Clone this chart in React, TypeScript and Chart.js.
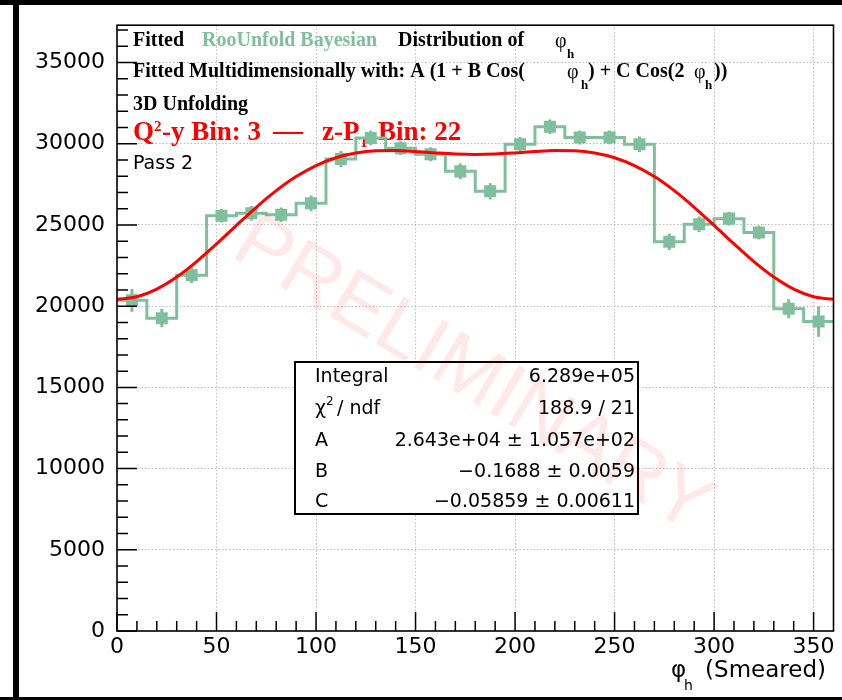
import React, { useEffect, useRef } from 'react';
import { Chart, registerables } from 'chart.js';

Chart.register(...registerables);

// ---------------- data ----------------
const binWidth = 15;
const binCenters = [
  7.5, 22.5, 37.5, 52.5, 67.5, 82.5, 97.5, 112.5, 127.5, 142.5, 157.5, 172.5,
  187.5, 202.5, 217.5, 232.5, 247.5, 262.5, 277.5, 292.5, 307.5, 322.5, 337.5, 352.5,
];
const counts = [
  20360, 19260, 21910, 25570, 25720, 25630, 26340, 29060, 30360, 29730, 29360, 28300,
  27070, 29970, 31050, 30390, 30390, 29970, 23960, 25040, 25390, 24530, 19840, 19060,
];
const errors = [
  700, 560, 480, 420, 450, 450, 480, 500, 450, 420, 430, 480,
  500, 450, 450, 430, 420, 480, 500, 480, 430, 430, 590, 940,
];
const fitPhi = [
  0, 10, 20, 30, 40, 50, 60, 70, 80, 90, 100, 110, 120, 130, 140, 150, 160, 170, 180,
  190, 200, 210, 220, 230, 240, 250, 260, 270, 280, 290, 300, 310, 320, 330, 340, 350, 360,
];
const fitValues = [
  20420, 20581, 21051, 21792, 22744, 23831, 24974, 26090, 27111, 27979, 28660, 29142, 29435,
  29566, 29579, 29519, 29436, 29368, 29343, 29368, 29436, 29519, 29579, 29566, 29435, 29142,
  28660, 27979, 27111, 26090, 24974, 23831, 22744, 21792, 21051, 20581, 20420,
];
const xTickValues = [0, 50, 100, 150, 200, 250, 300, 350];
const yTickValues = [0, 5000, 10000, 15000, 20000, 25000, 30000, 35000];
const statLabels = ['Integral', 'χ2 / ndf', 'A', 'B', 'C'];
const statValues = [
  '6.289e+05',
  '188.9 / 21',
  '2.643e+04 ± 1.057e+02',
  '\u22120.1688 ± 0.0059',
  '\u22120.05859 ± 0.00611',
];

const X_MIN = 0;
const X_MAX = 360;
const Y_MIN = 0;
const Y_MAX = 37300;

const GREEN = 'rgb(127,191,157)';
const RED = '#ff0000';
const SANS = '"DejaVu Sans"';
const SERIF = '"Liberation Serif"';

type Seg = { t: string; x: number; y: number; font: string; color: string };
const B20 = `bold 20px ${SERIF}`;
const B27 = `bold 27px ${SERIF}`;
const PHI = `20px ${SERIF}`;
const SUB = `bold 13px ${SERIF}`;
const headerSegments: Seg[] = [
  { t: 'Fitted', x: 133, y: 46, font: B20, color: '#000' },
  { t: 'RooUnfold Bayesian', x: 202, y: 46, font: B20, color: GREEN },
  { t: 'Distribution of', x: 398, y: 46, font: B20, color: '#000' },
  { t: 'φ', x: 555, y: 47, font: PHI, color: '#000' },
  { t: 'h', x: 567, y: 58, font: SUB, color: '#000' },
  { t: 'Fitted Multidimensionally with: A (1 + B Cos(', x: 133, y: 77, font: B20, color: '#000' },
  { t: 'φ', x: 567, y: 78, font: PHI, color: '#000' },
  { t: 'h', x: 581, y: 89, font: SUB, color: '#000' },
  { t: ') + C Cos(2', x: 588, y: 77, font: B20, color: '#000' },
  { t: 'φ', x: 694, y: 78, font: PHI, color: '#000' },
  { t: 'h', x: 705, y: 89, font: SUB, color: '#000' },
  { t: '))', x: 714, y: 77, font: B20, color: '#000' },
  { t: '3D Unfolding', x: 133, y: 110, font: B20, color: '#000' },
  { t: 'Q', x: 133, y: 140, font: B27, color: RED },
  { t: '2', x: 154, y: 131, font: `bold 15px ${SERIF}`, color: RED },
  { t: '-y Bin: 3', x: 162, y: 140, font: B27, color: RED },
  { t: '\u2014', x: 273, y: 140, font: `bold 30px ${SERIF}`, color: RED },
  { t: 'z-P', x: 322, y: 140, font: B27, color: RED },
  { t: 'T', x: 359, y: 147, font: `bold 15px ${SERIF}`, color: RED },
  { t: 'Bin: 22', x: 378, y: 140, font: B27, color: RED },
  { t: 'Pass 2', x: 133, y: 169, font: `19px ${SANS}`, color: '#000' },
];

const statBox = { x1: 295, y1: 362, x2: 638, y2: 514 };
const statRowsY = [382, 414, 446, 477, 507];

function fillSeg(ctx: CanvasRenderingContext2D, s: Seg) {
  ctx.font = s.font;
  ctx.fillStyle = s.color;
  ctx.textAlign = 'left';
  ctx.textBaseline = 'alphabetic';
  ctx.fillText(s.t, s.x, s.y);
}

const rootPlugin = {
  id: 'rootStyle',
  beforeDatasetsDraw(chart: any) {
    const ctx: CanvasRenderingContext2D = chart.ctx;
    ctx.save();
    headerSegments.forEach((s) => fillSeg(ctx, s));
    ctx.restore();
  },
  afterDatasetDraw(chart: any, args: any) {
    if (args.index !== 1) return;
    const ctx: CanvasRenderingContext2D = chart.ctx;
    const ys = chart.scales.y;
    const meta = chart.getDatasetMeta(1);
    ctx.save();
    ctx.strokeStyle = GREEN;
    ctx.lineWidth = 3;
    ctx.beginPath();
    meta.data.forEach((pt: any, i: number) => {
      ctx.moveTo(pt.x, ys.getPixelForValue(counts[i] + errors[i]));
      ctx.lineTo(pt.x, ys.getPixelForValue(counts[i] - errors[i]));
    });
    ctx.stroke();
    ctx.restore();
  },
  afterDatasetsDraw(chart: any) {
    const ctx: CanvasRenderingContext2D = chart.ctx;
    const { left, right, top, bottom } = chart.chartArea;
    const xs = chart.scales.x;
    const ys = chart.scales.y;
    ctx.save();

    // stats box
    ctx.fillStyle = '#fff';
    ctx.fillRect(statBox.x1, statBox.y1, statBox.x2 - statBox.x1, statBox.y2 - statBox.y1);
    ctx.strokeStyle = '#000';
    ctx.lineWidth = 2;
    ctx.strokeRect(statBox.x1, statBox.y1, statBox.x2 - statBox.x1, statBox.y2 - statBox.y1);
    ctx.fillStyle = '#000';
    ctx.textBaseline = 'alphabetic';
    statLabels.forEach((lab, i) => {
      const y = statRowsY[i];
      ctx.font = `19px ${SANS}`;
      ctx.textAlign = 'left';
      if (lab.startsWith('χ2')) {
        ctx.fillText('χ', 315, y);
        ctx.font = `12px ${SANS}`;
        ctx.fillText('2', 326, y - 9);
        ctx.font = `19px ${SANS}`;
        ctx.fillText(' / ndf', 331, y);
      } else {
        ctx.fillText(lab, 315, y);
      }
      ctx.textAlign = 'right';
      ctx.fillText(statValues[i], 635, y);
    });

    // frame
    ctx.strokeStyle = '#000';
    ctx.lineWidth = 1.6;
    ctx.strokeRect(left, top, right - left, bottom - top);

    // ticks (inside)
    ctx.lineWidth = 1.5;
    ctx.beginPath();
    for (let v = Y_MIN; v <= Y_MAX; v += 1000) {
      const y = ys.getPixelForValue(v);
      const len = v % 5000 === 0 ? 20 : 11;
      ctx.moveTo(left, y);
      ctx.lineTo(left + len, y);
    }
    for (let v = X_MIN; v < X_MAX; v += 10) {
      const x = xs.getPixelForValue(v);
      const len = v % 50 === 0 ? 19 : 10;
      ctx.moveTo(x, bottom);
      ctx.lineTo(x, bottom - len);
    }
    ctx.stroke();

    // x title
    ctx.fillStyle = '#000';
    ctx.textAlign = 'right';
    ctx.font = `23px ${SANS}`;
    ctx.fillText('(Smeared)', 826, 677);
    ctx.textAlign = 'left';
    ctx.fillText('φ', 671, 677);
    ctx.font = `14px ${SANS}`;
    ctx.fillText('h', 684, 690);

    // watermark
    ctx.translate(472, 376);
    ctx.rotate((31 * Math.PI) / 180);
    ctx.font = `80px "Liberation Sans"`;
    ctx.textAlign = 'center';
    ctx.textBaseline = 'middle';
    ctx.fillStyle = 'rgba(255,0,0,0.09)';
    ctx.fillText('PRELIMINARY', 0, 0);
    ctx.restore();
  },
};

export default function App() {
  const ref = useRef<HTMLCanvasElement>(null);

  useEffect(() => {
    const canvas = ref.current;
    if (!canvas) return;
    const stepData = binCenters.map((c, i) => ({ x: c - binWidth / 2, y: counts[i] }));
    stepData.push({ x: binCenters[binCenters.length - 1] + binWidth / 2, y: counts[counts.length - 1] });

    const chart = new Chart(canvas, {
      type: 'line',
      data: {
        datasets: [
          {
            label: 'fit',
            data: fitPhi.map((x, i) => ({ x, y: fitValues[i] })),
            borderColor: RED,
            borderWidth: 3,
            pointRadius: 0,
            cubicInterpolationMode: 'monotone',
            fill: false,
          } as any,
          {
            label: 'points',
            data: binCenters.map((x, i) => ({ x, y: counts[i] })),
            showLine: false,
            pointStyle: 'rect',
            pointRadius: 8.5,
            pointBackgroundColor: GREEN,
            pointBorderWidth: 0,
            pointBorderColor: GREEN,
          } as any,
          {
            label: 'hist',
            data: stepData,
            stepped: 'before',
            borderColor: GREEN,
            borderWidth: 3,
            pointRadius: 0,
            fill: false,
          } as any,
        ],
      },
      options: {
        responsive: false,
        animation: false,
        events: [],
        layout: { padding: { top: 13, right: 6, left: 0, bottom: 0 } },
        plugins: { legend: { display: false }, tooltip: { enabled: false } },
        scales: {
          x: {
            type: 'linear',
            min: X_MIN,
            max: X_MAX,
            afterFit: (s: any) => {
              s.height = 69;
            },
            afterBuildTicks: (s: any) => {
              s.ticks = xTickValues.map((value) => ({ value }));
            },
            ticks: {
              autoSkip: false,
              maxRotation: 0,
              padding: 3,
              color: '#000',
              font: { family: 'DejaVu Sans', size: 22 },
              callback: (v: any) => String(v),
            },
            grid: {
              drawTicks: false,
              lineWidth: 1,
              color: (c: any) => (c.tick && c.tick.value > X_MIN ? '#bdbdbd' : 'rgba(0,0,0,0)'),
            },
            border: { display: false, dash: [1.5, 2] },
          },
          y: {
            type: 'linear',
            min: Y_MIN,
            max: Y_MAX,
            afterFit: (s: any) => {
              s.width = 117;
            },
            afterBuildTicks: (s: any) => {
              s.ticks = yTickValues.map((value) => ({ value }));
            },
            ticks: {
              autoSkip: false,
              padding: 12,
              color: '#000',
              font: { family: 'DejaVu Sans', size: 22 },
              callback: (v: any) => String(v),
            },
            grid: {
              drawTicks: false,
              lineWidth: 1,
              color: (c: any) => (c.tick && c.tick.value > Y_MIN ? '#bdbdbd' : 'rgba(0,0,0,0)'),
            },
            border: { display: false, dash: [1.5, 2] },
          },
        },
      } as any,
      plugins: [rootPlugin],
    });
    return () => chart.destroy();
  }, []);

  return (
    <div
      style={{
        position: 'absolute',
        left: 0,
        top: 0,
        width: 842,
        height: 700,
        background: '#fff',
        overflow: 'hidden',
      }}
    >
      <canvas
        ref={ref}
        width={842}
        height={700}
        style={{ position: 'absolute', left: 0, top: 0, width: 842, height: 700 }}
      />
      <div style={{ position: 'absolute', left: 0, top: 0, width: 842, height: 5, background: '#000' }} />
      <div style={{ position: 'absolute', left: 13, top: 0, width: 6, height: 700, background: '#000' }} />
      <div style={{ position: 'absolute', left: 0, top: 697, width: 842, height: 3, background: '#000' }} />
    </div>
  );
}
